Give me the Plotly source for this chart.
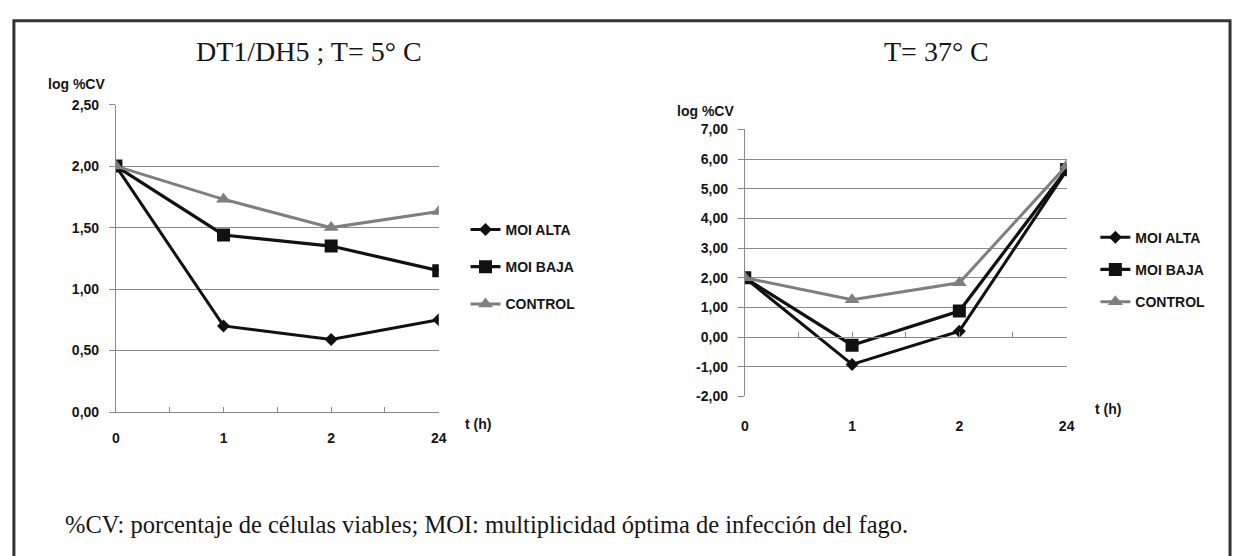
import plotly.graph_objects as go

# ---------------- data ----------------
time_labels = ["0", "1", "2", "24"]
time_pos = [0, 1, 2, 3]
series_names = ["MOI ALTA", "MOI BAJA", "CONTROL"]

cold_moi_alta = [2.00, 0.70, 0.59, 0.75]
cold_moi_baja = [2.00, 1.44, 1.35, 1.15]
cold_control = [2.00, 1.73, 1.50, 1.63]

warm_moi_alta = [2.00, -0.92, 0.20, 5.62]
warm_moi_baja = [2.00, -0.27, 0.88, 5.65]
warm_control = [2.00, 1.26, 1.83, 5.78]

cold_yticks = [0.0, 0.5, 1.0, 1.5, 2.0, 2.5]
warm_yticks = [-2, -1, 0, 1, 2, 3, 4, 5, 6, 7]

title_cold = "DT1/DH5 ; T= 5° C"
title_warm = "T= 37° C"
y_title = "log %CV"
x_title = "t (h)"
footer = "%CV: porcentaje de células viables; MOI: multiplicidad óptima de infección del fago."

# ---------------- layout helpers ----------------
W, H = 1242, 556


def px(x):
    return x / W


def py(y):
    return 1 - y / H


def fmt(v):
    return f"{v:.2f}".replace(".", ",")


SANS = "Liberation Sans, Arial, sans-serif"
SERIF = "Liberation Serif, Times New Roman, serif"
TXT = "#151515"
GRID = "#8a8a8a"

styles = [
    dict(color="#111111", width=3, symbol="diamond", size=10),
    dict(color="#111111", width=3.2, symbol="square", size=13),
    dict(color="#7f7f7f", width=3, symbol="triangle-up", size=13),
]

fig = go.Figure()

cold_sets = [cold_moi_alta, cold_moi_baja, cold_control]
warm_sets = [warm_moi_alta, warm_moi_baja, warm_control]

for i, (name, vals) in enumerate(zip(series_names, cold_sets)):
    s = styles[i]
    fig.add_trace(go.Scatter(
        x=time_pos, y=vals, name=name, mode="lines+markers",
        line=dict(color=s["color"], width=s["width"]),
        marker=dict(symbol=s["symbol"], size=s["size"], color=s["color"]),
        xaxis="x", yaxis="y", legend="legend", legendgroup=f"c{i}",
    ))

for i, (name, vals) in enumerate(zip(series_names, warm_sets)):
    s = styles[i]
    fig.add_trace(go.Scatter(
        x=time_pos, y=vals, name=name, mode="lines+markers",
        line=dict(color=s["color"], width=s["width"]),
        marker=dict(symbol=s["symbol"], size=s["size"], color=s["color"]),
        xaxis="x2", yaxis="y2", legend="legend2", legendgroup=f"w{i}",
    ))

# helper trace so the zero-line axis of the right chart is drawn
fig.add_trace(go.Scatter(x=[None], y=[None], xaxis="x3", yaxis="y2",
                         showlegend=False, hoverinfo="skip"))

# domains
cold_x = [px(113), px(439)]
cold_y = [py(416), py(99.5)]
warm_x = [px(748), px(1073)]
warm_y = [py(400), py(125)]
zero_pos = warm_y[0] + (0 - (-2)) / 9 * (warm_y[1] - warm_y[0])

half_ticks = [0, 0.5, 1, 1.5, 2, 2.5, 3]
half_text = ["0", "", "1", "", "2", "", "24"]

axis_font = dict(family=SANS, size=14, color=TXT, weight="bold")

fig.update_layout(
    width=W, height=H,
    margin=dict(l=0, r=0, t=0, b=0),
    paper_bgcolor="white", plot_bgcolor="white",
    showlegend=True,
    xaxis=dict(
        domain=cold_x, range=[0, 3], anchor="y",
        tickvals=half_ticks, ticktext=half_text,
        ticks="inside", ticklen=5, tickcolor=GRID,
        showline=True, linecolor=GRID, linewidth=1,
        showgrid=False, zeroline=False, tickfont=axis_font,
        ticklabelstandoff=13,
    ),
    yaxis=dict(
        domain=cold_y, range=[0, 2.5], anchor="x",
        tickvals=cold_yticks, ticktext=[fmt(v) for v in cold_yticks],
        ticks="outside", ticklen=6, tickcolor=GRID,
        showline=True, linecolor=GRID, linewidth=1,
        showgrid=True, gridcolor=GRID, gridwidth=1,
        zeroline=False, tickfont=axis_font, ticklabelstandoff=7,
    ),
    xaxis2=dict(
        domain=warm_x, range=[0, 3], anchor="y2",
        tickvals=time_pos, ticktext=time_labels,
        ticks="", showline=False, showgrid=False, zeroline=False,
        tickfont=axis_font, ticklabelstandoff=20,
    ),
    xaxis3=dict(
        domain=warm_x, range=[0, 3], anchor="free", position=zero_pos,
        overlaying="x2",
        tickvals=half_ticks, ticks="inside", ticklen=5, tickcolor=GRID,
        showticklabels=False,
        showline=True, linecolor=GRID, linewidth=1,
        showgrid=False, zeroline=False,
    ),
    yaxis2=dict(
        domain=warm_y, range=[-2, 7], anchor="x2",
        tickvals=warm_yticks, ticktext=[fmt(v) for v in warm_yticks],
        ticks="outside", ticklen=6, tickcolor=GRID,
        showline=True, linecolor=GRID, linewidth=1,
        showgrid=True, gridcolor=GRID, gridwidth=1,
        zeroline=False, tickfont=axis_font, ticklabelstandoff=7,
    ),
    legend=dict(
        x=px(466), y=py(212), xanchor="left", yanchor="top",
        font=axis_font,
        bgcolor="rgba(0,0,0,0)", borderwidth=0,
        traceorder="grouped", tracegroupgap=16,
    ),
    legend2=dict(
        x=px(1102), y=py(220), xanchor="left", yanchor="top",
        font=axis_font,
        bgcolor="rgba(0,0,0,0)", borderwidth=0,
        traceorder="grouped", tracegroupgap=11,
    ),
)

annotations = [
    dict(text=title_cold, x=px(308), y=py(45), font=dict(family=SERIF, size=28, color=TXT)),
    dict(text=title_warm, x=px(942), y=py(45), font=dict(family=SERIF, size=28, color=TXT)),
    dict(text=y_title, x=px(73), y=py(78), font=axis_font),
    dict(text=y_title, x=px(708), y=py(106), font=axis_font),
    dict(text=x_title, x=px(479), y=py(428), font=axis_font),
    dict(text=x_title, x=px(1115), y=py(413), font=axis_font),
    dict(text=footer, x=px(60), y=py(532), xanchor="left",
         font=dict(family=SERIF, size=24.5, color=TXT)),
]
for a in annotations:
    a.setdefault("xanchor", "center")
    fig.add_annotation(xref="paper", yref="paper", yanchor="middle",
                       showarrow=False, **a)

fig.add_shape(type="rect", xref="paper", yref="paper",
              x0=px(10), x1=px(1238), y0=-0.1, y1=py(13),
              line=dict(color="#333333", width=3), fillcolor="rgba(0,0,0,0)")

fig.write_html(
    "out.html",
    config={"displayModeBar": False},
    post_script="document.body.style.margin='0';document.body.style.overflow='hidden';",
)
